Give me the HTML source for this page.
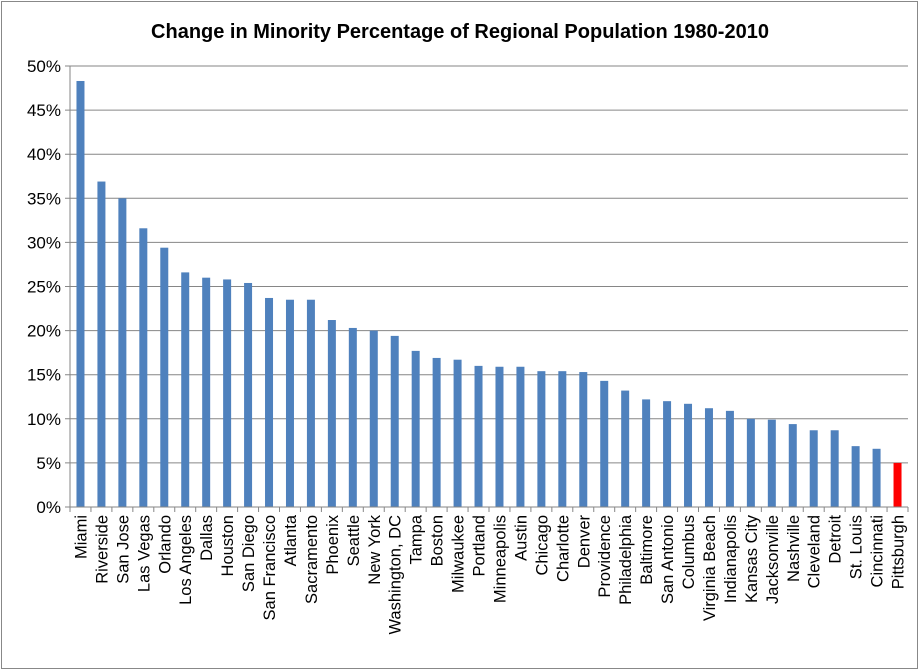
<!DOCTYPE html>
<html><head><meta charset="utf-8"><style>
body{margin:0;background:#fff}
svg{display:block;font-family:"Liberation Sans",sans-serif}
</style></head><body>
<svg id="c" width="920" height="671">
<rect x="1.5" y="1.5" width="916" height="667" fill="#fff" stroke="#888" stroke-width="1"/>
<text x="460" y="38" text-anchor="middle" font-size="20" font-weight="bold" fill="#000">Change in Minority Percentage of Regional Population 1980-2010</text>
<g id="grid"></g><g id="bars"></g><g id="axes"></g>
</svg>
<script>
const categories=["Miami","Riverside","San Jose","Las Vegas","Orlando","Los Angeles","Dallas","Houston","San Diego","San Francisco","Atlanta","Sacramento","Phoenix","Seattle","New York","Washington, DC","Tampa","Boston","Milwaukee","Portland","Minneapolis","Austin","Chicago","Charlotte","Denver","Providence","Philadelphia","Baltimore","San Antonio","Columbus","Virginia Beach","Indianapolis","Kansas City","Jacksonville","Nashville","Cleveland","Detroit","St. Louis","Cincinnati","Pittsburgh"];
const values=[48.3,36.9,35.0,31.6,29.4,26.6,26.0,25.8,25.4,23.7,23.5,23.5,21.2,20.3,20.0,19.4,17.7,16.9,16.7,16.0,15.9,15.9,15.4,15.4,15.3,14.3,13.2,12.2,12.0,11.7,11.2,10.9,10.0,9.9,9.4,8.7,8.7,6.9,6.6,5.0];
const yTicks=[0,5,10,15,20,25,30,35,40,45,50];
const X0=70,X1=908,Y0=507,Y1=66,YMAX=50;
const NS="http://www.w3.org/2000/svg";
const y=v=>Y0-(v/YMAX)*(Y0-Y1);
const bw=(X1-X0)/categories.length;
const x=i=>X0+i*bw;
function mk(t,a,p){const e=document.createElementNS(NS,t);for(const k in a)e.setAttribute(k,a[k]);p.appendChild(e);return e;}
const grid=document.getElementById('grid'),bars=document.getElementById('bars'),axes=document.getElementById('axes');
yTicks.forEach(t=>{
 const l=mk('line',{x1:X0-5,x2:t===0?X0:X1,y1:y(t),y2:y(t),stroke:'#868686','stroke-width':1},grid);
 
 
 const tx=mk('text',{x:X0-9,y:y(t)+6,'text-anchor':'end','font-size':17,fill:'#000'},axes);
 tx.textContent=t+'%';
 
 
});
mk('line',{x1:X0,x2:X0,y1:Y1,y2:Y0,stroke:'#868686'},axes);
mk('line',{x1:X0,x2:X1,y1:Y0,y2:Y0,stroke:'#868686'},axes);
categories.forEach((c,i)=>{
 const r=mk('rect',{x:x(i)+bw/2-4,y:y(values[i]),width:8,height:Y0-y(values[i]),fill:c==='Pittsburgh'?'#ff0000':'#4f81bd'},bars);
 
 
 mk('line',{x1:x(i),x2:x(i),y1:Y0,y2:Y0+5,stroke:'#868686'},axes);
 const cx=x(i)+bw/2+6;
 const t=mk('text',{x:0,y:0,transform:`translate(${cx},${Y0+8}) rotate(-90)`,'text-anchor':'end','font-size':16.5,fill:'#000'},axes);
 t.textContent=c;
 
 
});
mk('line',{x1:X1,x2:X1,y1:Y0,y2:Y0+5,stroke:'#868686'},axes);
</script>
</body></html>
